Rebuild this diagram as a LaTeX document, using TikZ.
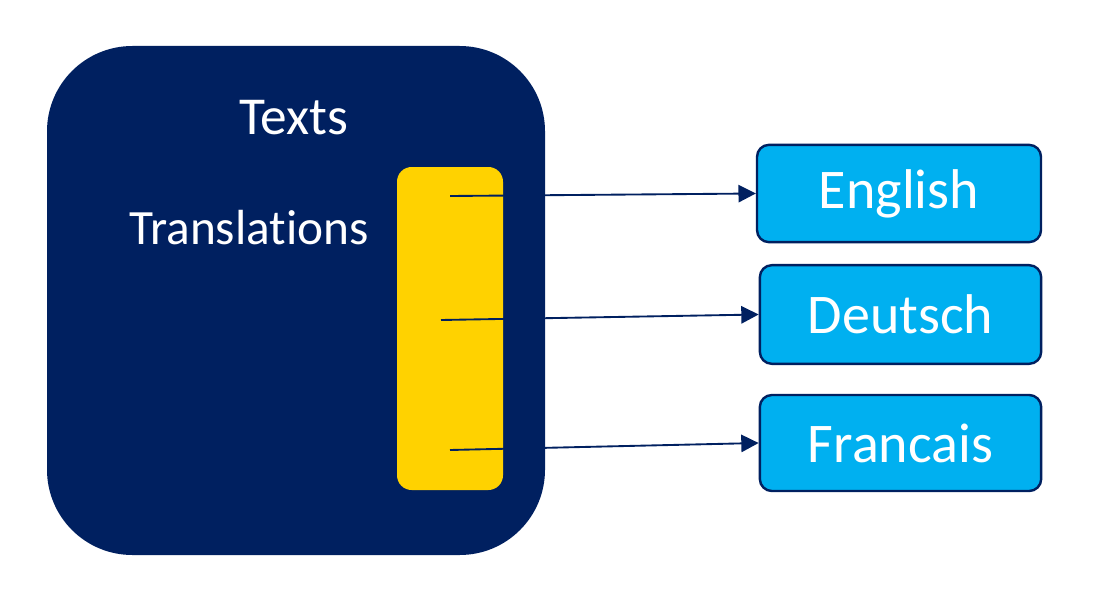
\documentclass[tikz,border=0pt]{standalone}
\usepackage{fontspec}
\setmainfont[Ligatures=NoCommon]{Carlito}
\usetikzlibrary{arrows.meta}
\definecolor{navy}{HTML}{002060}
\definecolor{gold}{HTML}{FFD200}
\definecolor{sky}{HTML}{00B0F0}
\tikzset{
  px/.style={x=0.75pt,y=-0.75pt},
  langbox/.style={draw=navy,line width=1.8pt,fill=sky,rounded corners=9pt,text=white,
    font=\fontsize{42}{50}\selectfont,inner sep=0pt},
  conn/.style={draw=navy,line width=1.4pt,-{Triangle[length=13pt,width=13pt]}},
  label/.style={text=white,anchor=base,inner sep=0pt}
}
\begin{document}
\begin{tikzpicture}[px]
\useasboundingbox (0,0) rectangle (1112,599);
\fill[white] (0,0) rectangle (1112,599);
% big box
\fill[navy,rounded corners=64pt] (47,46) rectangle (545,555);
\node[label,font=\fontsize{40}{48}\selectfont] (texts) at (294,135) {Texts};
\node[label,font=\fontsize{37}{44}\selectfont] (transl) at (249,244) {Translations};
% yellow bar
\fill[gold,rounded corners=11pt] (397,167) rectangle (503,490);
\coordinate (s1) at (450,196);
\coordinate (s2) at (441,320);
\coordinate (s3) at (450,450);
% language boxes
\node[langbox,minimum width=213pt,minimum height=73pt] (en) at (899,193.5) {English};
\node[langbox,minimum width=211pt,minimum height=74pt] (de) at (900.5,314.5) {Deutsch};
\node[langbox,minimum width=211pt,minimum height=72pt] (fr) at (900.5,443) {Francais};
\draw[conn] (s1) -- (en.west);
\draw[conn] (s2) -- (de.west);
\draw[conn] (s3) -- (fr.west);
\end{tikzpicture}
\end{document}
